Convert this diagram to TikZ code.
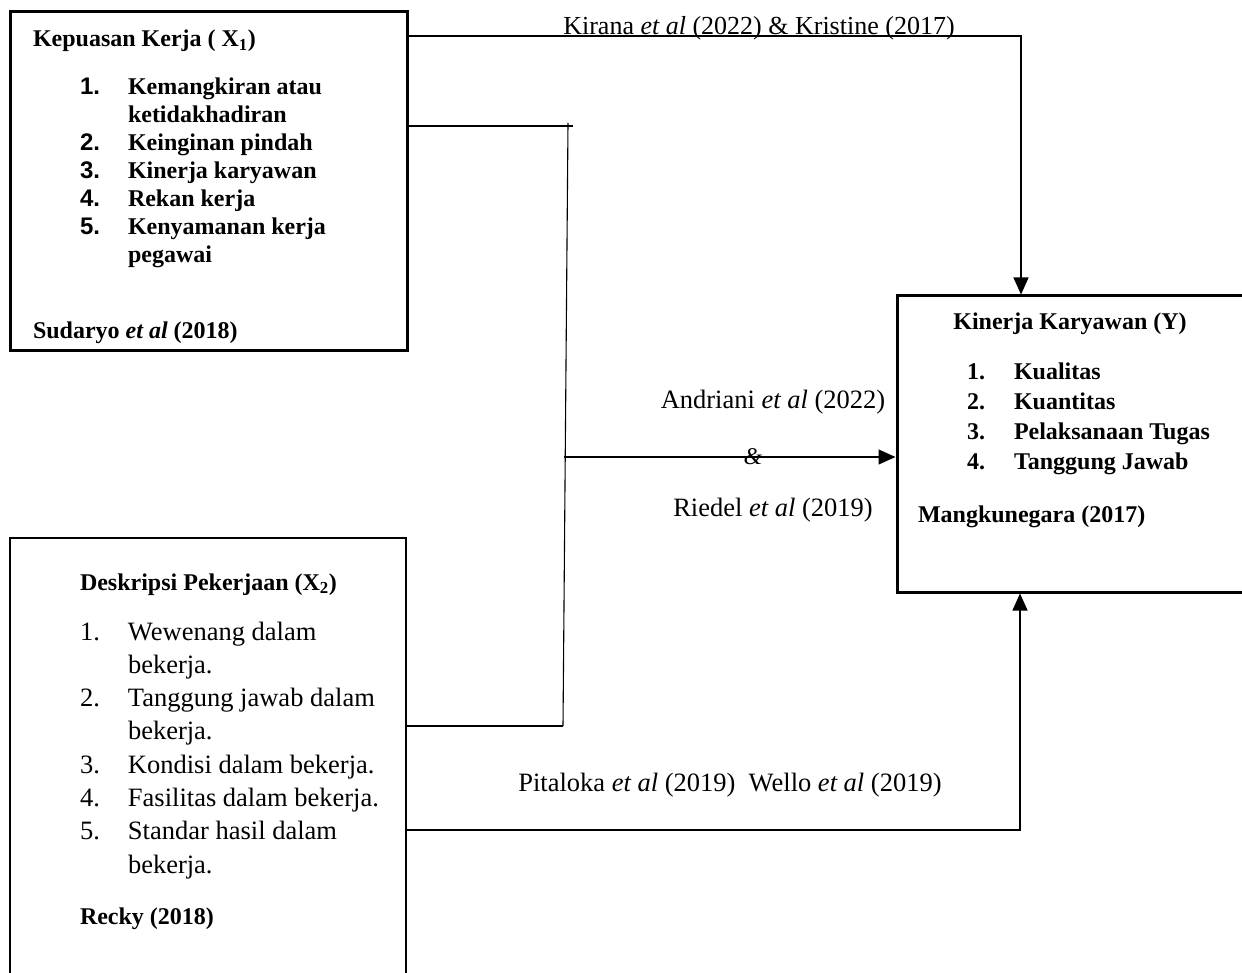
\documentclass[tikz,border=0pt]{standalone}
\usepackage{fontspec}
\setmainfont{Liberation Serif}
\setsansfont{Liberation Sans}
\usetikzlibrary{arrows.meta}
\tikzset{
  boxnode/.style={draw, line width=3pt, rectangle, inner sep=0pt, minimum width=#1},
  txt/.style={inner sep=0pt, outer sep=0pt, text=black},
  conn/.style={draw, line width=1.1pt},
  arr/.style={draw, line width=1.1pt, -{Triangle[length=17pt,width=15pt]}},
  boldtxt/.style={txt, font=\fontsize{24}{28}\selectfont\bfseries},
  regtxt/.style={txt, font=\fontsize{26.5}{33.3}\selectfont},
}
\begin{document}
\begin{tikzpicture}[x=1pt,y=-1pt]
\useasboundingbox (0,0) rectangle (1242,973);
\fill[white] (0,0) rectangle (1242,973);
\clip (0,0) rectangle (1242,973);

% boxes
\node[boxnode=397pt, minimum height=339pt] (x1) at (208.5,181.5) {};
\node[boxnode=365pt, minimum height=296pt] (y) at (1079.5,444) {};
\node[boxnode=396pt, minimum height=452pt, line width=2.6pt] (x2) at (208,764) {};

% box X1 text
\node[boldtxt, anchor=base west] (x1title) at (33,47) {Kepuasan Kerja ( X\textsubscript{1})};
\node[boldtxt, anchor=base west] (x1list) at (80,95) {%
\begin{tabular}[t]{@{}p{48pt}@{}l@{}}
{\sffamily 1.} & Kemangkiran atau\\
 & ketidakhadiran\\
{\sffamily 2.} & Keinginan pindah\\
{\sffamily 3.} & Kinerja karyawan\\
{\sffamily 4.} & Rekan kerja\\
{\sffamily 5.} & Kenyamanan kerja\\
 & pegawai
\end{tabular}};
\node[boldtxt, anchor=base west] (x1src) at (33,339) {Sudaryo \textit{et al} (2018)};

% box Y text
\node[boldtxt, anchor=base] (ytitle) at (1070,330) {Kinerja Karyawan (Y)};
\node[txt, anchor=base west, font=\fontsize{24}{29.7}\selectfont\bfseries] (ylist) at (967,380) {%
\begin{tabular}[t]{@{}p{47pt}@{}l@{}}
1. & Kualitas\\
2. & Kuantitas\\
3. & Pelaksanaan Tugas\\
4. & Tanggung Jawab
\end{tabular}};
\node[boldtxt, anchor=base west] (ysrc) at (918,522) {Mangkunegara (2017)};

% box X2 text
\node[boldtxt, anchor=base west] (x2title) at (80,590) {Deskripsi Pekerjaan (X\textsubscript{2})};
\node[regtxt, anchor=base west] (x2list) at (80,640) {%
\begin{tabular}[t]{@{}p{48pt}@{}l@{}}
1. & Wewenang dalam\\
 & bekerja.\\
2. & Tanggung jawab dalam\\
 & bekerja.\\
3. & Kondisi dalam bekerja.\\
4. & Fasilitas dalam bekerja.\\
5. & Standar hasil dalam\\
 & bekerja.
\end{tabular}};
\node[boldtxt, anchor=base west] (x2src) at (80,924) {Recky (2018)};

% waypoints
\coordinate (topR) at (1021,36);
\coordinate (hEnd) at (573,126);
\coordinate (jTop) at (568,123);
\coordinate (jBot) at (563,726);
\coordinate (jMid) at (563.7,457);
\coordinate (botR) at (1020,830);

% connectors
\draw[arr] (x1.east |- topR) -- (topR) -- (topR |- y.north);
\draw[conn] (x1.east |- hEnd) -- (hEnd);
\draw[conn] (jTop) -- (jBot);
\draw[conn] (x2.east |- jBot) -- (jBot);
\draw[arr] (jMid) -- (jMid -| y.west);
\draw[arr] (x2.east |- botR) -- (botR) -- (botR |- y.south);

% labels
\node[regtxt, font=\fontsize{26}{30}\selectfont, anchor=base] (lk) at (759,35) {Kirana \textit{et al} (2022) \& Kristine (2017)};
\node[regtxt, anchor=base] (la) at (773,409) {Andriani \textit{et al} (2022)};
\node[txt, font=\fontsize{24}{28}\selectfont\itshape, anchor=base] (lamp) at (753,464) {\&};
\node[regtxt, anchor=base] (lr) at (773,516) {Riedel \textit{et al} (2019)};
\node[regtxt, anchor=base] (lp) at (730,791) {Pitaloka \textit{et al} (2019)\enspace Wello \textit{et al} (2019)};
\end{tikzpicture}
\end{document}
